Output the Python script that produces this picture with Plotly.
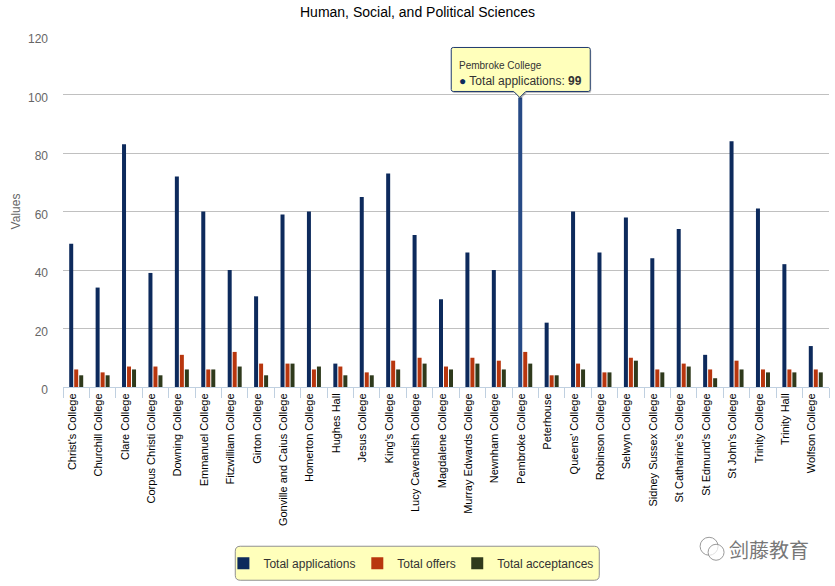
import plotly.graph_objects as go

COLLEGES = [
    "Christ's College", "Churchill College", "Clare College", "Corpus Christi College",
    "Downing College", "Emmanuel College", "Fitzwilliam College", "Girton College",
    "Gonville and Caius College", "Homerton College", "Hughes Hall", "Jesus College",
    "King's College", "Lucy Cavendish College", "Magdalene College", "Murray Edwards College",
    "Newnham College", "Pembroke College", "Peterhouse", "Queens' College", "Robinson College",
    "Selwyn College", "Sidney Sussex College", "St Catharine's College", "St Edmund's College",
    "St John's College", "Trinity College", "Trinity Hall", "Wolfson College",
]
APPLICATIONS = [49, 34, 83, 39, 72, 60, 40, 31, 59, 60, 8, 65, 73, 52, 30, 46, 40, 99, 22, 60, 46, 58, 44, 54, 11, 84, 61, 42, 14]
OFFERS = [6, 5, 7, 7, 11, 6, 12, 8, 8, 6, 7, 5, 9, 10, 7, 10, 9, 12, 4, 8, 5, 10, 6, 8, 6, 9, 6, 6, 6]
ACCEPTANCES = [4, 4, 6, 4, 6, 6, 7, 4, 8, 7, 4, 4, 6, 8, 6, 8, 6, 8, 4, 6, 5, 9, 5, 7, 3, 6, 5, 5, 5]
Y_TICKS = [0, 20, 40, 60, 80, 100, 120]
HOVERED = "Pembroke College"

NAVY, RED, OLIVE = "#0d2a5c", "#b8360e", "#2f3a1c"
NAVY_HOVER = "#274a85"
TOOLTIP_BG = "#ffffbb"
FONT = "Liberation Sans, Arial, sans-serif"
WIDTH, HEIGHT = 835, 586
M_L, M_R, M_T, M_B = 62.5, 6, 36, 198.5

plot_w, plot_h = WIDTH - M_L - M_R, HEIGHT - M_T - M_B


def px(x):
    return (x - M_L) / plot_w


def py(y):
    return (HEIGHT - M_B - y) / plot_h


app_colors = [NAVY_HOVER if c == HOVERED else NAVY for c in COLLEGES]

fig = go.Figure()
fig.add_bar(x=COLLEGES, y=APPLICATIONS, name="Total applications", marker_color=app_colors,
            marker_line_width=0, legend="legend")
fig.add_bar(x=COLLEGES, y=OFFERS, name="Total offers", marker_color=RED,
            marker_line_width=0, legend="legend2")
fig.add_bar(x=COLLEGES, y=ACCEPTANCES, name="Total acceptances", marker_color=OLIVE,
            marker_line_width=0, legend="legend3")


def round_rect(x0, y0, x1, y1, r):
    # y goes up in pixel-sized shapes
    return (
        f"M{x0 + r},{y0} L{x1 - r},{y0} Q{x1},{y0} {x1},{y0 + r} L{x1},{y1 - r} Q{x1},{y1} {x1 - r},{y1} "
        f"L{x0 + r},{y1} Q{x0},{y1} {x0},{y1 - r} L{x0},{y0 + r} Q{x0},{y0} {x0 + r},{y0} Z"
    )


def callout(dx=0, dy=0):
    # tooltip box with its little pointer, pixels relative to the bar top
    x0, x1, y0, y1, r = -74 + dx, 65 + dx, 6 + dy, 50 + dy, 2
    tip = -5.5 + dx
    return (
        f"M{x0 + r},{y0} L{tip - 6},{y0} L{tip},{y0 - 6} L{tip + 6},{y0} L{x1 - r},{y0} Q{x1},{y0} {x1},{y0 + r} "
        f"L{x1},{y1 - r} Q{x1},{y1} {x1 - r},{y1} L{x0 + r},{y1} Q{x0},{y1} {x0},{y1 - r} L{x0},{y0 + r} Q{x0},{y0} {x0 + r},{y0} Z"
    )


hover_idx = COLLEGES.index(HOVERED)
hover_y = APPLICATIONS[hover_idx]
tip_common = dict(type="path", xref="x", yref="y", xsizemode="pixel", ysizemode="pixel",
                  xanchor=hover_idx, yanchor=hover_y, layer="above")
fig.add_shape(path=callout(1, -1.5), line_width=0, fillcolor="rgba(0,0,0,0.25)", **tip_common)
fig.add_shape(path=callout(), line=dict(color="#1f3a6e", width=1), fillcolor=TOOLTIP_BG, **tip_common)

# legend frame, drawn behind the real legends
fig.add_shape(type="path", xref="paper", yref="paper", xsizemode="pixel", ysizemode="pixel",
              xanchor=px(417), yanchor=py(564),
              path=round_rect(-182, -17, 182, 17, 5), line=dict(color="#909090", width=1),
              fillcolor=TOOLTIP_BG, layer="above")

fig.add_annotation(xref="paper", yref="paper", x=px(457), y=py(66), xanchor="left", yanchor="middle",
                   showarrow=False, text="Pembroke College", font=dict(family=FONT, size=10, color="#333333"))
fig.add_annotation(xref="paper", yref="paper", x=px(457), y=py(81), xanchor="left", yanchor="middle",
                   showarrow=False, text="<span style='color:#0d2a5c'>●</span> Total applications: <b>99</b>",
                   font=dict(family=FONT, size=12, color="#333333"))

# watermark
for cx, cy, r in [(709, 547, 9), (716, 553, 8)]:
    fig.add_shape(type="circle", xref="paper", yref="paper", x0=px(cx - r), x1=px(cx + r),
                  y0=py(cy + r), y1=py(cy - r), line=dict(color="#9a9a9a", width=1), fillcolor="rgba(255,255,255,0.7)")
fig.add_annotation(xref="paper", yref="paper", x=px(727), y=py(550), xanchor="left", yanchor="middle",
                   showarrow=False, text="剑藤教育", font=dict(family="Noto Sans CJK SC", size=20, color="#777777"))


def legend_at(x_left):
    return dict(orientation="h", x=px(x_left), y=py(564), xanchor="left", yanchor="middle",
                bgcolor="rgba(0,0,0,0)", borderwidth=0, font=dict(family=FONT, size=12, color="#333333"),
                itemclick=False, itemdoubleclick=False)


fig.update_layout(
    width=WIDTH,
    height=HEIGHT,
    autosize=False,
    template=None,
    paper_bgcolor="white",
    plot_bgcolor="white",
    margin=dict(l=M_L, r=M_R, t=M_T, b=M_B, pad=0),
    barmode="group",
    bargap=0.432,
    bargroupgap=0.2,
    font=dict(family=FONT, size=12, color="#333333"),
    title=dict(text="Human, Social, and Political Sciences", x=0.5, xref="container", xanchor="center",
               y=0.979, yanchor="middle", font=dict(family=FONT, size=14, color="#000000")),
    legend=legend_at(223),
    legend2=legend_at(357),
    legend3=legend_at(457),
    showlegend=True,
    hovermode=False,
)
fig.update_xaxes(
    type="category",
    categoryorder="array",
    categoryarray=COLLEGES,
    tickangle=-90,
    tickson="boundaries",
    ticks="outside",
    ticklen=10,
    tickcolor="#c0d0e0",
    tickwidth=1,
    ticklabelstandoff=1,
    ticklabelshift=-4,
    showline=True,
    linecolor="#c0d0e0",
    linewidth=1,
    showgrid=False,
    tickfont=dict(family=FONT, size=11, color="#000000"),
)
fig.update_yaxes(
    range=[0, 120.02],
    tickvals=Y_TICKS,
    showgrid=True,
    gridcolor="#c0c0c0",
    gridwidth=1,
    zeroline=False,
    showline=False,
    ticks="",
    ticklabelstandoff=14,
    ticklabelshift=3,
    tickfont=dict(family=FONT, size=12, color="#666666"),
    title=dict(text="Values", font=dict(family=FONT, size=12, color="#666666"), standoff=4),
)

# page margin off so the figure sits at the window corner
fig.write_html("out.html", config={"displayModeBar": False},
               post_script="document.body.style.margin='0';")
